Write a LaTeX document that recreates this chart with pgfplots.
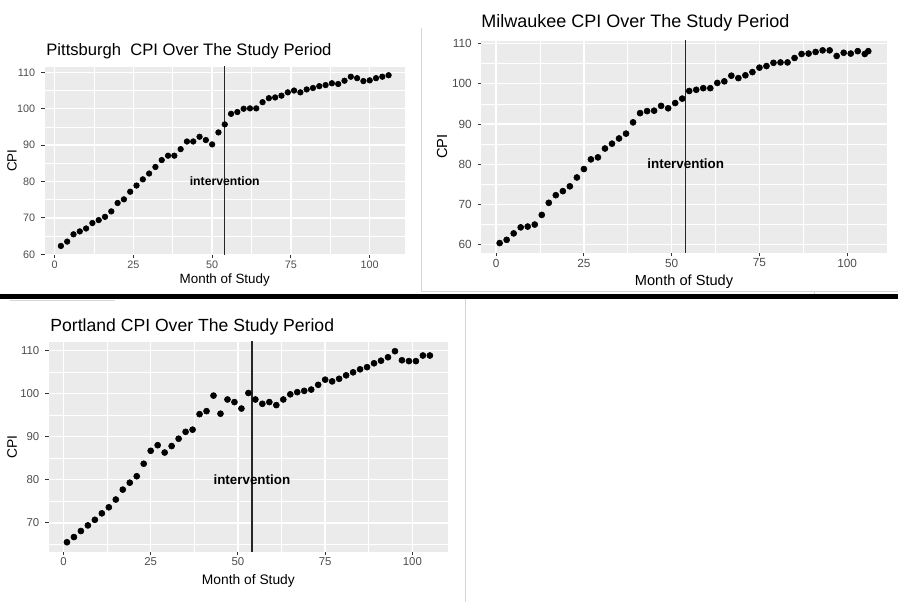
\documentclass[border=0pt]{standalone}
\usepackage{fontspec}
\setmainfont{Liberation Sans}
\usepackage{pgfplots}
\pgfplotsset{compat=1.18}
\definecolor{ggbg}{HTML}{EBEBEB}
\definecolor{ggtick}{HTML}{4D4D4D}
\definecolor{ggtickline}{HTML}{333333}
\definecolor{sepgray}{HTML}{D6D6D6}

\pgfplotsset{
  ggpanel/.style={
    scale only axis, anchor=south west,
    axis background/.style={fill=ggbg},
    axis line style={draw=none},
    tick align=outside, tick pos=left,
    major tick length=1.8pt, minor tick length=0pt,
    tick style={ggtickline, line width=0.45pt},
    grid=both,
    major grid style={white, line width=0.7pt},
    minor grid style={white, line width=0.35pt},
    xtick={0,25,50,75,100},
    minor xtick={12.5,37.5,62.5,87.5},
    ytick={60,70,80,90,100,110},
    minor ytick={65,75,85,95,105},
    ticklabel style={text=ggtick},
    xticklabel style={yshift=2.3pt},
    yticklabel style={xshift=0.6pt},
    /pgf/number format/assume math mode=true,
  },
  ggpts/.style={only marks, mark=*, mark size=1.4pt, black,
    mark options={fill=black, draw=black, line width=0.3pt}},
  ggvline/.style={black!85, line width=0.7pt, no marks},
}

\pgfplotstableread{
m cpi
2 62.3
4 63.5
6 65.5
8 66.3
10 67.1
12 68.6
14 69.4
16 70.3
18 71.8
20 74.1
22 75.1
24 77.2
26 78.9
28 80.6
30 82.2
32 84.0
34 85.9
36 87.1
38 87.1
40 88.9
42 91.0
44 91.0
46 92.3
48 91.4
50 90.2
52 93.5
54 95.7
56 98.6
58 99.1
60 100.0
62 100.1
64 100.1
66 101.8
68 102.9
70 103.1
72 103.6
74 104.5
76 105.0
78 104.5
80 105.3
82 105.7
84 106.2
86 106.5
88 107.0
90 106.8
92 107.7
94 108.8
96 108.4
98 107.6
100 107.8
102 108.4
104 108.8
106 109.2
}\pitt

\pgfplotstableread{
m cpi
1 60.4
3 61.2
5 62.8
7 64.3
9 64.5
11 65.0
13 67.4
15 70.4
17 72.3
19 73.3
21 74.5
23 76.7
25 78.8
27 81.2
29 81.7
31 83.9
33 85.1
35 86.4
37 87.6
39 90.4
41 92.7
43 93.2
45 93.3
47 94.5
49 93.9
51 95.2
53 96.3
55 98.2
57 98.5
59 98.9
61 98.9
63 100.2
65 100.6
67 102.0
69 101.4
71 102.1
73 102.9
75 104.0
77 104.4
79 105.2
81 105.3
83 105.3
85 106.4
87 107.4
89 107.5
91 107.9
93 108.3
95 108.3
97 106.9
99 107.7
101 107.5
103 108.1
105 107.4
106 108.1
}\milw

\pgfplotstableread{
m cpi
1 65.5
3 66.7
5 68.1
7 69.4
9 70.7
11 72.2
13 73.6
15 75.4
17 77.7
19 79.3
21 80.8
23 83.7
25 86.7
27 88.0
29 86.3
31 87.8
33 89.5
35 91.1
37 91.6
39 95.2
41 95.9
43 99.5
45 95.3
47 98.6
49 98.0
51 96.5
53 100.1
55 98.6
57 97.6
59 98.0
61 97.3
63 98.6
65 99.8
67 100.3
69 100.6
71 100.9
73 102.0
75 103.2
77 102.8
79 103.4
81 104.2
83 104.9
85 105.6
87 106.1
89 107.0
91 107.6
93 108.4
95 109.8
97 107.7
99 107.5
101 107.5
103 108.8
105 108.8
}\port

\begin{document}
\begin{tikzpicture}[x=0.5pt,y=0.5pt]
% 1 unit = 1 px of the 898x602 reference, y counted from the bottom
\path[use as bounding box] (0,0) rectangle (898,602);

% frame pieces of the pasted screenshots
\draw[sepgray, line width=0.5pt] (421,574) -- (421,311) -- (898,311);
\draw[sepgray, line width=0.5pt] (814,311) -- (814,308);
\fill[black] (0,303.5) rectangle (898,308);
\draw[sepgray, line width=0.5pt] (10,301.5) -- (115,301.5);
\draw[sepgray, line width=0.5pt] (465,303) -- (465,0);

% Pittsburgh
\begin{axis}[ggpanel, at={(22.25pt,173.75pt)}, width=180.25pt, height=93.9pt,
  xmin=-3.2, xmax=111.2, ymin=59.95, ymax=111.55,
  ticklabel style={font=\fontsize{5.4}{6}\selectfont}]
\addplot[ggpts] table[x=m, y=cpi] {\pitt};
\addplot[ggvline] coordinates {(54,50) (54,120)};
\node[font=\bfseries\fontsize{6.1}{8}\selectfont] at (axis cs:54,80) {intervention};
\end{axis}
\node[anchor=base west, inner sep=0pt, font=\fontsize{8.3}{10}\selectfont] at (46,547) {Pittsburgh\ \ CPI Over The Study Period};
\node[anchor=base, font=\fontsize{6.7}{8}\selectfont] at (224.75,319) {Month of Study};
\node[rotate=90, font=\fontsize{6.7}{8}\selectfont] at (12,441.4) {CPI};

% Milwaukee
\begin{axis}[ggpanel, at={(240.6pt,174.65pt)}, width=202.75pt, height=106pt,
  xmin=-4.25, xmax=111.25, ymin=58.0, ymax=110.7,
  ticklabel style={font=\fontsize{5.9}{7}\selectfont}]
\addplot[ggpts, mark size=1.5pt] table[x=m, y=cpi] {\milw};
\addplot[ggvline] coordinates {(54,50) (54,120)};
\node[font=\bfseries\fontsize{6.7}{9}\selectfont] at (axis cs:54,80) {intervention};
\end{axis}
\node[anchor=base west, inner sep=0pt, font=\fontsize{9}{11}\selectfont] at (481,575) {Milwaukee CPI Over The Study Period};
\node[anchor=base, font=\fontsize{7.3}{9}\selectfont] at (684,316.5) {Month of Study};
\node[rotate=90, font=\fontsize{7.3}{9}\selectfont] at (442,455.3) {CPI};

% Portland
\begin{axis}[ggpanel, at={(24.4pt,25.15pt)}, width=199.6pt, height=105pt,
  xmin=-4.2, xmax=110.2, ymin=63.3, ymax=112.0,
  ytick={70,80,90,100,110},
  ticklabel style={font=\fontsize{5.7}{7}\selectfont}]
\addplot[ggpts, mark size=1.5pt] table[x=m, y=cpi] {\port};
\addplot[ggvline] coordinates {(54,50) (54,120)};
\node[font=\bfseries\fontsize{6.7}{9}\selectfont] at (axis cs:54,80) {intervention};
\end{axis}
\node[anchor=base west, inner sep=0pt, font=\fontsize{8.8}{10}\selectfont] at (50,271) {Portland CPI Over The Study Period};
\node[anchor=base, font=\fontsize{6.9}{8}\selectfont] at (248.4,18) {Month of Study};
\node[rotate=90, font=\fontsize{6.9}{8}\selectfont] at (12,155.3) {CPI};
\end{tikzpicture}
\end{document}
